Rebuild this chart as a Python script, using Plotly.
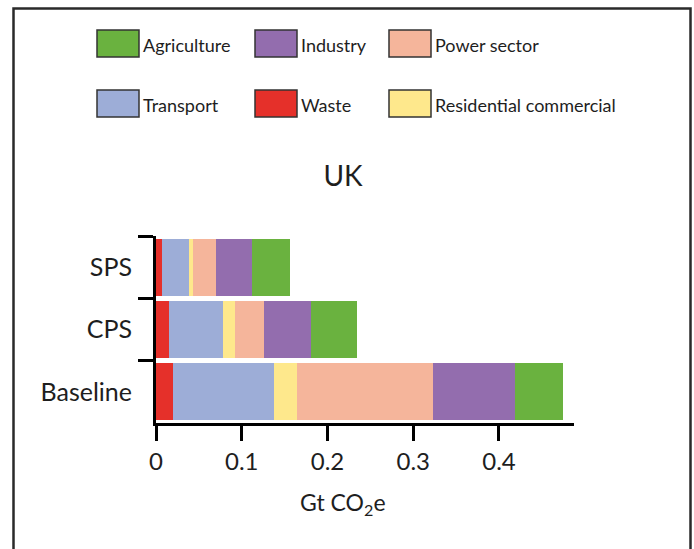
import plotly.graph_objects as go

# ---------------- data ----------------
categories = ["Baseline", "CPS", "SPS"]
sectors = ["Waste", "Transport", "Residential commercial", "Power sector", "Industry", "Agriculture"]
waste = [0.0195, 0.0148, 0.0074]
transport = [0.118, 0.0637, 0.0315]
residential = [0.0265, 0.014, 0.0039]
power = [0.1595, 0.0335, 0.0268]
industry = [0.095, 0.0548, 0.042]
agriculture = [0.056, 0.0532, 0.0447]
x_ticks = [0, 0.1, 0.2, 0.3, 0.4]
x_tick_labels = ["0", "0.1", "0.2", "0.3", "0.4"]
legend_rows = [["Agriculture", "Industry", "Power sector"],
               ["Transport", "Waste", "Residential commercial"]]
title_text = "UK"
x_label = "Gt CO<sub>2</sub>e"

values = {
    "Waste": waste,
    "Transport": transport,
    "Residential commercial": residential,
    "Power sector": power,
    "Industry": industry,
    "Agriculture": agriculture,
}
colors = {
    "Waste": "#E5302A",
    "Transport": "#9DADD7",
    "Residential commercial": "#FEE88C",
    "Power sector": "#F5B59B",
    "Industry": "#936DAE",
    "Agriculture": "#6AB23F",
}

W, H = 694, 549
FONT = "Lato"
TXT = "#1e1e1e"

def px(x):
    return x / W

def py(y):
    return 1 - y / H

fig = go.Figure()
for s in sectors:
    fig.add_trace(go.Bar(
        y=categories, x=values[s], name=s, orientation="h",
        marker=dict(color=colors[s], line=dict(width=0)),
        showlegend=False,
    ))

# plot area in pixels
L, R, T, B = 156, 574, 236, 423

fig.update_layout(
    width=W, height=H,
    margin=dict(l=0, r=0, t=0, b=0),
    paper_bgcolor="white", plot_bgcolor="white",
    barmode="stack", bargap=0.09,
    font=dict(family=FONT, color=TXT),
    title=dict(text=title_text, x=px(343), xanchor="center",
               y=py(176), yanchor="middle", font=dict(size=28, color=TXT)),
    xaxis=dict(
        domain=[px(L), px(R)], range=[0, 0.4875],
        tickvals=x_ticks, ticktext=x_tick_labels,
        ticks="outside", ticklen=15, tickwidth=3, tickcolor="black",
        showline=True, linewidth=3, linecolor="black",
        showgrid=False, zeroline=False, automargin=False,
        tickfont=dict(size=24, color=TXT),
    ),
    yaxis=dict(
        domain=[py(B), py(T)], range=[-0.5, 2.5],
        type="category", categoryorder="array", categoryarray=categories,
        tickson="boundaries",
        ticks="outside", ticklen=15, tickwidth=3, tickcolor="black",
        showline=True, linewidth=3, linecolor="black",
        showgrid=False, zeroline=False, automargin=False,
        tickfont=dict(size=25, color=TXT), ticklabelstandoff=16,
    ),
)

shapes = []
annotations = []
# outer frame
shapes.append(dict(type="rect", xref="paper", yref="paper",
                   x0=px(13.5), x1=px(690.5), y0=py(560), y1=py(8.5),
                   line=dict(color="#2a2a2a", width=2.5), fillcolor="rgba(0,0,0,0)"))

# custom legend
col_x = [97, 255, 389]
row_y = [30, 90]
sw_w, sw_h = 42, 27
for r, row in enumerate(legend_rows):
    for c, name in enumerate(row):
        x0 = col_x[c]
        y0 = row_y[r]
        shapes.append(dict(type="rect", xref="paper", yref="paper",
                           x0=px(x0), x1=px(x0 + sw_w), y0=py(y0 + sw_h), y1=py(y0),
                           fillcolor=colors[name], line=dict(color="#333333", width=1.5)))
        annotations.append(dict(xref="paper", yref="paper", x=px(x0 + sw_w + 2),
                                y=py(y0 + sw_h / 2 + 1), xanchor="left", yanchor="middle",
                                text=name, showarrow=False,
                                font=dict(size=18, color=TXT, family=FONT)))

# x axis label
annotations.append(dict(xref="paper", yref="paper", x=px(343), y=py(503),
                        xanchor="center", yanchor="middle", text=x_label,
                        showarrow=False, font=dict(size=23, color=TXT, family=FONT)))

fig.update_layout(shapes=shapes, annotations=annotations)
fig.write_html("out.html", config={"displayModeBar": False},
               post_script="document.body.style.margin='0px';")
